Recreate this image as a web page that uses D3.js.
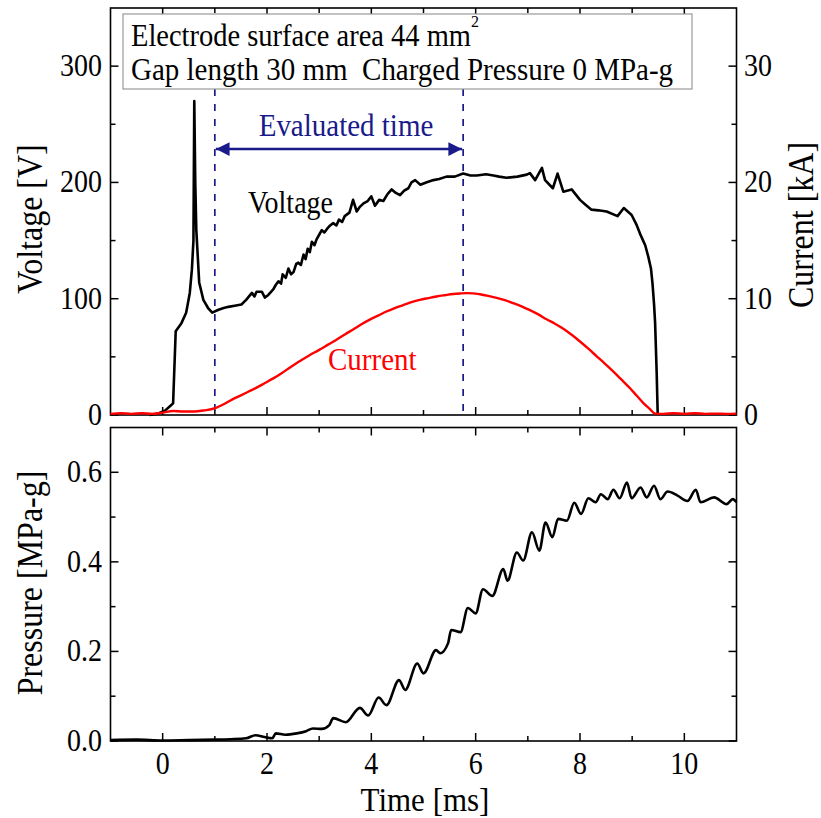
<!doctype html>
<meta charset="utf-8">
<title>Voltage, current and pressure</title>
<script src="https://cdn.jsdelivr.net/npm/d3@7"></script>
<style>
body { margin: 0; background: #fff; }
svg { font-family: "Liberation Serif", "Times New Roman", serif; }
</style>
<body>
<script>
// time [ms] and voltage [V]
var voltT = [-0.25, -0.1, 0.05, 0.15, 0.2, 0.25, 0.36, 0.45, 0.52, 0.56, 0.59, 0.606, 0.625, 0.645, 0.70, 0.78, 0.87, 0.95,
  1.07, 1.17, 1.26, 1.38, 1.51, 1.6, 1.71, 1.76, 1.8, 1.90, 1.96, 2.02, 2.12, 2.17, 2.22, 2.27, 2.3, 2.36, 2.41, 2.46, 2.51,
  2.56, 2.6, 2.65, 2.70, 2.74, 2.78, 2.82, 2.86, 2.91, 2.95, 3.0,
  3.05, 3.1, 3.15, 3.21, 3.27, 3.33, 3.38, 3.44, 3.49, 3.58, 3.65, 3.72, 3.78, 3.85, 3.93, 4.0, 4.07, 4.15, 4.23, 4.31, 4.39,
  4.47, 4.55, 4.63, 4.71, 4.77, 4.84, 4.94, 5.05, 5.12, 5.19, 5.3,
  5.44, 5.6, 5.76, 5.9, 6.02, 6.2, 6.34, 6.45, 6.59, 6.8, 6.98, 7.04, 7.14, 7.27, 7.33, 7.48, 7.57, 7.68, 7.84, 8.0,
  8.1, 8.22, 8.35, 8.51, 8.72, 8.84, 8.99, 9.08, 9.15, 9.25, 9.31, 9.36, 9.39, 9.42, 9.44, 9.47, 9.49];
var voltV = [0, 1, 4, 8, 10, 72, 79, 88, 105, 125, 150, 270, 200, 159, 114, 99, 92, 88,
  90.5, 92, 93, 94, 95, 99, 105, 102, 106, 106, 101, 103, 108, 112, 115, 113, 121, 118, 126, 121, 123,
  130, 131, 129, 138, 134, 143, 140, 149, 146, 151, 155,
  159, 157, 160, 163, 165, 163, 168, 166, 171, 174, 185, 175, 179, 182, 184, 188, 180, 185, 184, 190, 194,
  191, 189, 193, 195, 200, 202, 198, 200, 201, 202, 203,
  205, 205, 207.6, 206, 206, 207, 206, 205, 204, 205, 206.7, 208, 202, 212.5, 202, 195, 207.6, 192, 194, 185,
  181, 176.6, 176, 175, 171, 178, 172, 164, 156, 146, 136, 126, 113, 95, 79, 36, 0];

// time [ms] and current [kA]
var currT = [-1, -0.8, -0.6, -0.4, -0.2, 0, 0.2, 0.4, 0.6, 0.8, 1.0, 1.16, 1.32, 1.48, 1.64, 1.8, 1.96, 2.12, 2.28,
  2.44, 2.60, 2.8, 3.0, 3.17, 3.34, 3.5, 3.65, 3.81, 3.97, 4.13, 4.29, 4.45, 4.61, 4.77, 4.93, 5.09, 5.25, 5.41,
  5.57, 5.7, 5.83, 5.95, 6.08, 6.24, 6.40, 6.56, 6.72, 6.88, 7.04, 7.2, 7.36, 7.52, 7.68, 7.84, 8.0, 8.16, 8.32,
  8.48, 8.64, 8.8, 8.96, 9.08, 9.21, 9.33, 9.44, 9.6, 9.8, 10.0, 10.2, 10.4, 10.6, 10.8, 11.0];
var currI = [0.1, 0.15, 0.1, 0.15, 0.1, 0.2, 0.35, 0.3, 0.3, 0.4, 0.58, 0.9, 1.3, 1.65, 2.0, 2.35, 2.75, 3.15, 3.6,
  4.08, 4.55, 5.1, 5.6, 6.05, 6.5, 6.95, 7.35, 7.8, 8.2, 8.55, 8.9, 9.2, 9.45, 9.7, 9.9, 10.05, 10.19, 10.3,
  10.4, 10.45, 10.48, 10.46, 10.38, 10.24, 10.07, 9.87, 9.62, 9.35, 9.02, 8.65, 8.23, 7.85, 7.42, 6.9, 6.32, 5.7, 5.05,
  4.4, 3.73, 3.02, 2.3, 1.7, 1.05, 0.55, 0.12, 0.1, 0.15, 0.1, 0.15, 0.1, 0.12, 0.1, 0.12];

// time [ms] and pressure [MPa-g]
var presT = [-1, -0.5, 0, 0.5, 1.0, 1.3, 1.6, 1.78, 1.95, 2.10, 2.17, 2.35, 2.57, 2.75, 2.88, 3.05, 3.19, 3.27, 3.51,
  3.78, 3.94, 4.14, 4.29, 4.53, 4.65, 4.88, 5.0, 5.24, 5.32, 5.47, 5.53, 5.71, 5.85, 6.0, 6.14, 6.32, 6.53, 6.61,
  6.79, 6.91, 7.08, 7.22, 7.34, 7.47, 7.58, 7.75, 7.89, 8.02, 8.16, 8.30, 8.40, 8.53, 8.64, 8.76, 8.90, 8.99, 9.16,
  9.28, 9.42, 9.54, 9.68, 9.87, 10.06, 10.22, 10.31, 10.57, 10.81, 10.93, 11.0];
var presP = [0.002, 0.003, 0.001, 0.002, 0.003, 0.004, 0.006, 0.013, 0.009, 0.006, 0.017, 0.014, 0.017, 0.022, 0.028, 0.027, 0.035, 0.051, 0.042,
  0.074, 0.057, 0.097, 0.080, 0.136, 0.114, 0.173, 0.151, 0.203, 0.196, 0.218, 0.248, 0.243, 0.297, 0.285, 0.339, 0.324, 0.384, 0.358,
  0.421, 0.403, 0.466, 0.425, 0.488, 0.455, 0.496, 0.492, 0.532, 0.507, 0.542, 0.533, 0.551, 0.540, 0.561, 0.542, 0.577, 0.542, 0.566,
  0.544, 0.570, 0.540, 0.557, 0.548, 0.536, 0.561, 0.533, 0.544, 0.529, 0.540, 0.533];

var xMajor = [0, 2, 4, 6, 8, 10];
var xMinor = [1, 3, 5, 7, 9];
var voltTicks = [0, 100, 200, 300];
var currTicks = [0, 10, 20, 30];
var presTicks = [0.0, 0.2, 0.4, 0.6];
var evalTime = [1.0, 5.76];
var boxLines = ["Electrode surface area 44 mm", "Gap length 30 mm\u00a0\u00a0Charged Pressure 0 MPa-g"];

var navy = "#1a1a8a";
var STRETCH = 1.1; // glyphs in the original are a bit taller than wide

var svg = d3.select("body").append("svg")
    .attr("width", 821)
    .attr("height", 818);

var x = d3.scaleLinear().domain([-1, 11]).range([110.5, 736.5]);
var yV = d3.scaleLinear().domain([0, 350]).range([415, 8]);
var yI = d3.scaleLinear().domain([0, 35]).range([415, 8]);
var yP = d3.scaleLinear().domain([0, 0.7]).range([741, 427.5]);

function txt(px, py, str, size, anchor, rot) {
  return svg.append("text")
      .attr("transform", "translate(" + px + "," + py + ")" + (rot ? " rotate(" + rot + ")" : "") + " scale(1," + STRETCH + ")")
      .attr("text-anchor", anchor || "start")
      .attr("font-size", size)
      .text(str);
}

function frame(top, bottom, yScale, leftMinor, rightScale, rightMinor) {
  var g = svg.append("g");
  g.append("rect")
      .attr("x", x.range()[0]).attr("y", top)
      .attr("width", x.range()[1] - x.range()[0]).attr("height", bottom - top)
      .attr("fill", "none").attr("stroke", "#000").attr("stroke-width", 1.6);
  // x ticks on bottom and top edges, pointing in
  xMajor.concat(xMinor).forEach(function (t) {
    var len = xMajor.indexOf(t) >= 0 ? 8 : 5;
    g.append("line").attr("x1", x(t)).attr("x2", x(t)).attr("y1", bottom).attr("y2", bottom - len)
        .attr("stroke", "#000").attr("stroke-width", 1.5);
    g.append("line").attr("x1", x(t)).attr("x2", x(t)).attr("y1", top).attr("y2", top + len)
        .attr("stroke", "#000").attr("stroke-width", 1.5);
  });
  yScale.ticks.forEach(function (v) {
    g.append("line").attr("x1", x.range()[0]).attr("x2", x.range()[0] + 8).attr("y1", yScale.s(v)).attr("y2", yScale.s(v))
        .attr("stroke", "#000").attr("stroke-width", 1.5);
  });
  leftMinor.forEach(function (v) {
    g.append("line").attr("x1", x.range()[0]).attr("x2", x.range()[0] + 5).attr("y1", yScale.s(v)).attr("y2", yScale.s(v))
        .attr("stroke", "#000").attr("stroke-width", 1.5);
  });
  rightScale.ticks.forEach(function (v) {
    g.append("line").attr("x1", x.range()[1]).attr("x2", x.range()[1] - 8).attr("y1", rightScale.s(v)).attr("y2", rightScale.s(v))
        .attr("stroke", "#000").attr("stroke-width", 1.5);
  });
  rightMinor.forEach(function (v) {
    g.append("line").attr("x1", x.range()[1]).attr("x2", x.range()[1] - 5).attr("y1", rightScale.s(v)).attr("y2", rightScale.s(v))
        .attr("stroke", "#000").attr("stroke-width", 1.5);
  });
  return g;
}

// top panel
frame(8, 415, {s: yV, ticks: voltTicks}, [50, 150, 250], {s: yI, ticks: currTicks}, [5, 15, 25]);
// bottom panel
frame(427.5, 741, {s: yP, ticks: presTicks}, [0.1, 0.3, 0.5], {s: yP, ticks: presTicks}, [0.1, 0.3, 0.5]);

// tick labels
voltTicks.forEach(function (d) { txt(102, yV(d) + 10, d, 28, "end"); });
currTicks.forEach(function (d) { txt(744, yI(d) + 10, d, 28); });
presTicks.forEach(function (d) { txt(102, yP(d) + 10, d.toFixed(1), 28, "end"); });
xMajor.forEach(function (d) { txt(x(d), 774, d, 28, "middle"); });

// axis titles
txt(42, 219, "Voltage [V]", 32, "middle", -90);
txt(813, 225, "Current [kA]", 32, "middle", -90);
txt(42, 583, "Pressure [MPa-g]", 32, "middle", -90);
txt(425, 811, "Time [ms]", 31, "middle");

// evaluated time markers
svg.selectAll(".evline").data(evalTime).enter().append("line")
    .attr("x1", function (d) { return x(d); }).attr("x2", function (d) { return x(d); })
    .attr("y1", 89).attr("y2", 415)
    .attr("stroke", navy).attr("stroke-width", 1.7).attr("stroke-dasharray", "7,8");

var defs = svg.append("defs");
["arrEnd", "arrStart"].forEach(function (id, i) {
  defs.append("marker").attr("id", id)
      .attr("viewBox", "0 0 10 10").attr("refX", i ? 0 : 10).attr("refY", 5)
      .attr("markerWidth", 5.5).attr("markerHeight", 5.5).attr("markerUnits", "strokeWidth")
      .attr("orient", "auto")
    .append("path").attr("d", i ? "M10,0 L0,5 L10,10 z" : "M0,0 L10,5 L0,10 z").attr("fill", navy);
});
svg.append("line")
    .attr("x1", x(evalTime[0]) + 1).attr("x2", x(evalTime[1]) - 1)
    .attr("y1", 149).attr("y2", 149)
    .attr("stroke", navy).attr("stroke-width", 2.5)
    .attr("marker-start", "url(#arrStart)").attr("marker-end", "url(#arrEnd)");
txt(346, 135.5, "Evaluated time", 29, "middle").attr("fill", navy);

// curves
var line = d3.line().x(function (d) { return x(d[0]); }).y(function (d) { return d[1]; });
var smooth = d3.line().curve(d3.curveMonotoneX).x(function (d) { return x(d[0]); }).y(function (d) { return d[1]; });

svg.append("path")
    .attr("d", line(voltT.map(function (t, i) { return [t, yV(voltV[i])]; })))
    .attr("fill", "none").attr("stroke", "#000").attr("stroke-width", 2.6).attr("stroke-linejoin", "round");
svg.append("path")
    .attr("d", smooth(currT.map(function (t, i) { return [t, yI(currI[i])]; })))
    .attr("fill", "none").attr("stroke", "#ff0000").attr("stroke-width", 2.4).attr("stroke-linejoin", "round");
svg.append("path")
    .attr("d", smooth(presT.map(function (t, i) { return [t, yP(presP[i])]; })))
    .attr("fill", "none").attr("stroke", "#000").attr("stroke-width", 2.6).attr("stroke-linejoin", "round");

txt(248, 213, "Voltage", 28);
txt(328, 370, "Current", 29).attr("fill", "#ff0000");

// info box
svg.append("rect").attr("x", 123).attr("y", 14).attr("width", 569).attr("height", 75)
    .attr("fill", "#fff").attr("stroke", "#999").attr("stroke-width", 1.2);
var l1 = txt(131, 46, boxLines[0], 28.5);
l1.append("tspan").attr("dy", -17).attr("font-size", 16).text("2");
txt(131, 80, boxLines[1], 29);
</script>
</body>
